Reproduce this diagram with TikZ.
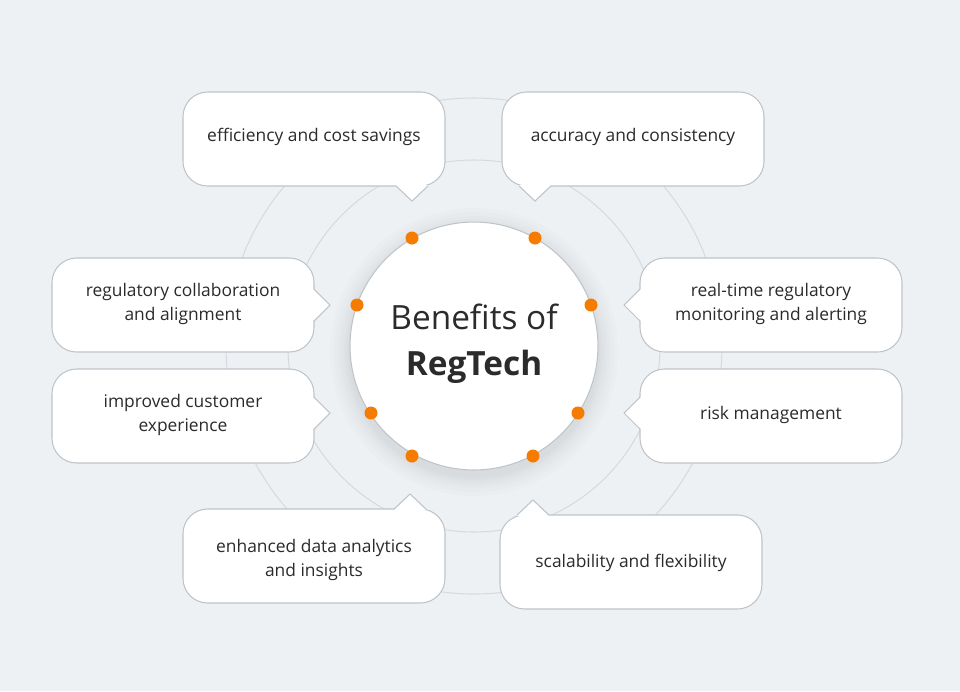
\documentclass[tikz,border=0pt]{standalone}
\usepackage{fontspec}
\setmainfont{Open Sans}
\definecolor{bg}{HTML}{EEF1F4}
\definecolor{ring}{HTML}{D6DADE}
\definecolor{bord}{HTML}{BFC4C9}
\definecolor{txt}{HTML}{2B2B2B}
\definecolor{dot}{HTML}{F57C00}
\begin{document}
\begin{tikzpicture}[x=0.02cm,y=-0.02cm,
  boxst/.style={draw=bord,fill=white,rounded corners=14pt,line width=0.6pt},
  lbl/.style={text=txt,font=\fontsize{9.9}{14}\selectfont,align=center},
  dotst/.style={circle,fill=dot,inner sep=0pt,minimum size=0.26cm}]
\fill[bg] (0,0) rectangle (960,691);
\useasboundingbox (0,0) rectangle (960,691);
\draw[ring,line width=0.6pt] (474,346) circle (248);
\draw[ring,line width=0.6pt] (474,346) circle (186);
% shadow
\foreach \r in {144,140,136,133,130,128,126}
  \fill[black,opacity=0.012] (474,352) circle (\r);
\node[circle,draw=bord,fill=white,line width=0.6pt,minimum size=4.96cm] (c) at (474,346) {};
\node[text=txt,align=center,font=\fontsize{19}{26}\selectfont] at (474,344)
  {Benefits of\\\textbf{RegTech}};
\draw[boxst] (183,92) rectangle (445,186);
\draw[boxst] (502,92) rectangle (764,186);
\draw[boxst] (52,258) rectangle (314,352);
\draw[boxst] (640,258) rectangle (902,352);
\draw[boxst] (52,369) rectangle (314,463);
\draw[boxst] (640,369) rectangle (902,463);
\draw[boxst] (183,509) rectangle (445,603);
\draw[boxst] (500,515) rectangle (762,609);
% pointers
\fill[white] (396,185) -- (412,201) -- (428,185) -- cycle; \draw[bord,line width=0.6pt] (396,186) -- (412,201) -- (428,186);
\fill[white] (519,185) -- (535,201) -- (551,185) -- cycle; \draw[bord,line width=0.6pt] (519,186) -- (535,201) -- (551,186);
\fill[white] (313,289) -- (330,305) -- (313,321) -- cycle; \draw[bord,line width=0.6pt] (314,289) -- (330,305) -- (314,321);
\fill[white] (641,289) -- (624,305) -- (641,321) -- cycle; \draw[bord,line width=0.6pt] (640,289) -- (624,305) -- (640,321);
\fill[white] (313,397) -- (330,413) -- (313,429) -- cycle; \draw[bord,line width=0.6pt] (314,397) -- (330,413) -- (314,429);
\fill[white] (641,397) -- (624,413) -- (641,429) -- cycle; \draw[bord,line width=0.6pt] (640,397) -- (624,413) -- (640,429);
\fill[white] (394,510) -- (410,494) -- (426,510) -- cycle; \draw[bord,line width=0.6pt] (394,509) -- (410,494) -- (426,509);
\fill[white] (517,516) -- (533,500) -- (549,516) -- cycle; \draw[bord,line width=0.6pt] (517,515) -- (533,500) -- (549,515);
% labels
\node[lbl] (b1) at (314,137) {efficiency and cost savings};
\node[lbl] (b2) at (633,137) {accuracy and consistency};
\node[lbl] (b3) at (183,304) {regulatory collaboration\\and alignment};
\node[lbl] (b4) at (771,304) {real-time regulatory\\monitoring and alerting};
\node[lbl] (b5) at (183,415) {improved customer\\experience};
\node[lbl] (b6) at (771,415) {risk management};
\node[lbl] (b7) at (314,560) {enhanced data analytics\\and insights};
\node[lbl] (b8) at (631,563) {scalability and flexibility};
% dots
\foreach \n/\x/\y in {d1/412/238,d2/535/238,d3/357/305,d4/591/305,d5/371/413,d6/578/413,d7/412/456,d8/533/456}
  \node[dotst] (\n) at (\x,\y) {};
\end{tikzpicture}
\end{document}
